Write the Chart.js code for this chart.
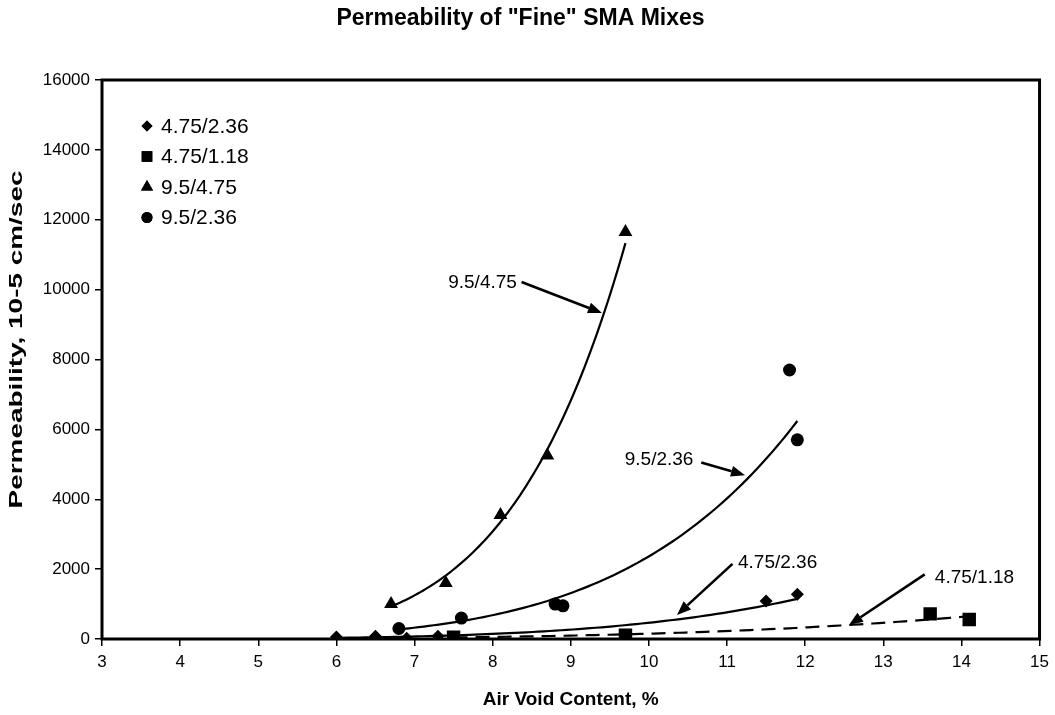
<!DOCTYPE html>
<html><head><meta charset="utf-8">
<script src="https://cdn.jsdelivr.net/npm/chart.js@4.4.0/dist/chart.umd.min.js"></script>
<style>html,body{margin:0;padding:0;background:#fff}#wrap{width:1055px;height:715px;position:relative}</style>
</head><body><div id="wrap"><canvas id="c"></canvas></div>
<script>
// ---- data ----
const seriesNames = ['4.75/2.36', '4.75/1.18', '9.5/4.75', '9.5/2.36'];
const x_475_236 = [6.0, 6.5, 6.9, 7.3, 11.5, 11.9];
const y_475_236 = [60, 80, 20, 80, 1090, 1280];
const x_475_118 = [7.5, 9.7, 13.6, 14.1];
const y_475_118 = [50, 110, 720, 560];
const x_95_475 = [6.7, 7.4, 8.1, 8.7, 9.7];
const y_95_475 = [1000, 1600, 3550, 5250, 11650];
const x_95_236 = [6.8, 7.6, 8.8, 8.9, 11.8, 11.9];
const y_95_236 = [300, 600, 1000, 950, 7700, 5700];
const xTickValues = [3, 4, 5, 6, 7, 8, 9, 10, 11, 12, 13, 14, 15];
const yTickValues = [0, 2000, 4000, 6000, 8000, 10000, 12000, 14000, 16000];
const titleText = 'Permeability of "Fine" SMA Mixes';
const xTitleText = 'Air Void Content, %';
const yTitleText = 'Permeability, 10-5 cm/sec';
// annotation callouts (data coordinates)
const annotLabels = ['9.5/4.75', '9.5/2.36', '4.75/2.36', '4.75/1.18'];
const annotTextX = [8.31, 10.57, 11.14, 13.66];
const annotTextY = [10190, 5120, 2180, 1750];
const annotAlign = ['right', 'right', 'left', 'left'];
const arrowFromX = [8.37, 10.67, 11.07, 13.53];
const arrowFromY = [10220, 5050, 2150, 1850];
const arrowToX = [9.40, 11.23, 10.36, 12.56];
const arrowToY = [9330, 4690, 690, 400];

// Excel-style power trendline fitted to each series
function powerTrend(xs, ys) {
  const n = xs.length;
  const lx = xs.map(Math.log), ly = ys.map(Math.log);
  const mx = lx.reduce((a, b) => a + b, 0) / n, my = ly.reduce((a, b) => a + b, 0) / n;
  let sxy = 0, sxx = 0;
  for (let i = 0; i < n; i++) { sxy += (lx[i] - mx) * (ly[i] - my); sxx += (lx[i] - mx) ** 2; }
  const b = sxy / sxx, a = Math.exp(my - b * mx);
  const x0 = Math.min(...xs), x1 = Math.max(...xs), out = [];
  const steps = 80;
  for (let i = 0; i <= steps; i++) { const x = x0 + (x1 - x0) * i / steps; out.push({x, y: a * Math.pow(x, b)}); }
  return out;
}
const pts = (xs, ys) => xs.map((x, i) => ({x, y: ys[i]}));

const FONT = 'Arial, "Liberation Sans", sans-serif';
const styles = [
  {pointStyle: 'rectRot', radius: 6.5, legendR: 5.5},
  {pointStyle: 'rect', radius: 9.5, legendR: 7.5},
  {pointStyle: 'triangle', radius: 8, legendR: 7},
  {pointStyle: 'circle', radius: 6.5, legendR: 5.5}
];
const seriesData = [pts(x_475_236, y_475_236), pts(x_475_118, y_475_118), pts(x_95_475, y_95_475), pts(x_95_236, y_95_236)];
const trendData = [powerTrend(x_475_236, y_475_236), powerTrend(x_475_118, y_475_118), powerTrend(x_95_475, y_95_475), powerTrend(x_95_236, y_95_236)];

const datasets = [];
trendData.forEach((d, i) => datasets.push({
  label: 'trend ' + seriesNames[i], data: d, showLine: true, pointRadius: 0, borderColor: '#000',
  borderWidth: 2.2, borderDash: i === 1 ? [14, 8] : [], fill: false, tension: 0
}));
seriesData.forEach((d, i) => datasets.push({
  label: seriesNames[i], data: d, showLine: false, pointStyle: styles[i].pointStyle,
  pointRadius: styles[i].radius, backgroundColor: '#000', borderColor: '#000', borderWidth: 0
}));

const decor = {
  id: 'decor',
  afterDatasetsDraw(chart) {
    const ctx = chart.ctx, ca = chart.chartArea, xs = chart.scales.x, ys = chart.scales.y;
    ctx.save();
    // plot frame
    ctx.strokeStyle = '#000'; ctx.lineWidth = 3;
    ctx.strokeRect(ca.left, ca.top, ca.right - ca.left, ca.bottom - ca.top);
    // callouts
    ctx.fillStyle = '#000'; ctx.font = '19px ' + FONT; ctx.textBaseline = 'middle';
    for (let i = 0; i < annotLabels.length; i++) {
      ctx.textAlign = annotAlign[i];
      ctx.fillText(annotLabels[i], xs.getPixelForValue(annotTextX[i]), ys.getPixelForValue(annotTextY[i]));
      const x1 = xs.getPixelForValue(arrowFromX[i]), y1 = ys.getPixelForValue(arrowFromY[i]);
      const x2 = xs.getPixelForValue(arrowToX[i]), y2 = ys.getPixelForValue(arrowToY[i]);
      const ang = Math.atan2(y2 - y1, x2 - x1), hl = 14, hw = 5.5;
      const bx = x2 - hl * Math.cos(ang), by = y2 - hl * Math.sin(ang);
      ctx.lineWidth = 2.6; ctx.beginPath(); ctx.moveTo(x1, y1); ctx.lineTo(bx, by); ctx.stroke();
      ctx.beginPath(); ctx.moveTo(x2, y2);
      ctx.lineTo(bx + hw * Math.sin(ang), by - hw * Math.cos(ang));
      ctx.lineTo(bx - hw * Math.sin(ang), by + hw * Math.cos(ang));
      ctx.closePath(); ctx.fill();
    }
    // legend
    ctx.font = '21px ' + FONT; ctx.textAlign = 'left';
    for (let i = 0; i < seriesNames.length; i++) {
      const y = 126 + i * 30.5;
      Chart.helpers.drawPoint(ctx, {pointStyle: styles[i].pointStyle, radius: styles[i].legendR, borderWidth: 0}, 147, y);
      ctx.fill();
      ctx.fillText(seriesNames[i], 161, y + 1);
    }
    // y-axis title (drawn elongated as in the reference)
    ctx.translate(17, (ca.top + ca.bottom) / 2 - 20);
    ctx.rotate(-Math.PI / 2);
    ctx.scale(1.47, 1);
    ctx.font = 'bold 19px ' + FONT; ctx.textAlign = 'center'; ctx.textBaseline = 'middle';
    ctx.fillText(yTitleText, 0, 0);
    ctx.restore();
  }
};

new Chart(document.getElementById('c'), {
  type: 'scatter',
  data: {datasets},
  plugins: [decor],
  options: {
    responsive: true, maintainAspectRatio: false, animation: false,
    layout: {padding: {left: 0, right: 14, top: 0, bottom: 0}},
    plugins: {
      legend: {display: false}, tooltip: {enabled: false},
      title: {display: true, text: titleText, color: '#000',
        font: {family: FONT, size: 23, weight: 'bold'}, padding: {top: 5, bottom: 80 - 5 - 23 * 1.2}}
    },
    scales: {
      x: {
        type: 'linear', min: 3, max: 15,
        afterBuildTicks(s) { s.ticks = xTickValues.map(v => ({value: v})); },
        afterFit(s) { s.height = 76; },
        ticks: {color: '#000', font: {family: FONT, size: 17}, padding: 6, callback: v => String(v)},
        grid: {display: true, drawOnChartArea: false, drawTicks: true, tickLength: 7, color: '#000', lineWidth: 1.5},
        border: {display: false},
        title: {display: true, text: xTitleText, color: '#000', font: {family: FONT, size: 19, weight: 'bold'}, padding: {top: 4, bottom: 4}}
      },
      y: {
        type: 'linear', min: 0, max: 16000,
        afterBuildTicks(s) { s.ticks = yTickValues.map(v => ({value: v})); },
        afterFit(s) { s.width = 102; },
        ticks: {color: '#000', font: {family: FONT, size: 17}, padding: 5, callback: v => String(v)},
        grid: {display: true, drawOnChartArea: false, drawTicks: true, tickLength: 7, color: '#000', lineWidth: 1.5},
        border: {display: false},
        title: {display: false}
      }
    }
  }
});
</script></body></html>
